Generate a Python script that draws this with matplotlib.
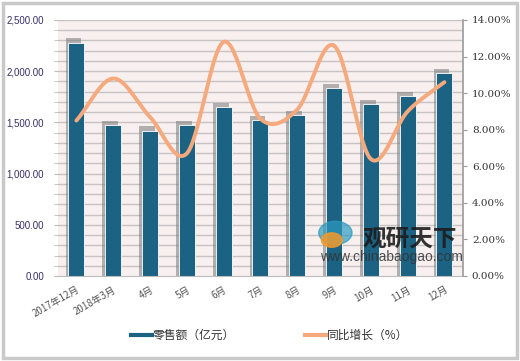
import numpy as np
import matplotlib.pyplot as plt
from matplotlib.patches import Rectangle

plt.rcParams['font.family'] = ['Noto Sans CJK SC', 'DejaVu Sans']

# data
months = ["2017年12月", "2018年3月", "4月", "5月", "6月", "7月", "8月", "9月", "10月", "11月", "12月"]
sales = [2280, 1475, 1420, 1478, 1650, 1523, 1572, 1836, 1680, 1758, 1982]
growth = [8.5, 10.8, 8.7, 6.7, 12.8, 8.6, 9.1, 12.6, 6.4, 9.0, 10.6]

bar_color = "#1b6283"
line_color = "#f5a97c"


def catmull_rom(x, y, n=30):
    # smooth curve through the points, like the spreadsheet "smoothed line"
    x = np.asarray(x, float)
    y = np.asarray(y, float)
    px = np.concatenate([[2 * x[0] - x[1]], x, [2 * x[-1] - x[-2]]])
    py = np.concatenate([[2 * y[0] - y[1]], y, [2 * y[-1] - y[-2]]])
    xs, ys = [], []
    t = np.linspace(0, 1, n)
    for i in range(1, len(px) - 2):
        for p, out in ((px, xs), (py, ys)):
            p0, p1, p2, p3 = p[i - 1], p[i], p[i + 1], p[i + 2]
            out.extend(0.5 * (2 * p1 + (-p0 + p2) * t
                              + (2 * p0 - 5 * p1 + 4 * p2 - p3) * t ** 2
                              + (-p0 + 3 * p1 - 3 * p2 + p3) * t ** 3))
    return np.array(xs), np.array(ys)


fig = plt.figure(figsize=(5.2, 3.61), dpi=100)
fig.patches.append(Rectangle((0.006, 0.008), 0.988, 0.984, transform=fig.transFigure,
                             fill=False, edgecolor="#c9c9c9", linewidth=2.5))

ax = fig.add_axes([0.1115, 0.2355, 0.7785, 0.7091])
ax.set_facecolor("#f8efef")
x = np.arange(len(months))

ax.set_ylim(0, 2500)
ax.set_xlim(-0.5, len(months) - 0.5)
for v in range(100, 2600, 100):
    ax.axhline(v, color="#c6c3c3", linewidth=1, zorder=0)

# soft shadow behind the bars
ax.bar(x - 0.08, [s + 40 for s in sales], width=0.43, color="#7a7a7a", alpha=0.55, zorder=1)
ax.bar(x, sales, width=0.43, color=bar_color, edgecolor="white", linewidth=0.6, zorder=2)

ax.set_yticks(range(0, 2501, 500))
ax.set_yticklabels(["{:,.2f}".format(v) for v in range(0, 2501, 500)],
                   fontsize=7, color="#3a2f6a", family="Liberation Sans")
ax.set_yticks(range(0, 2501, 100), minor=True)
ax.tick_params(axis="y", which="both", length=3, color="#bdbdbd", pad=7)
ax.set_xticks(x)
ax.set_xticklabels(months, rotation=30, ha="right", rotation_mode="anchor",
                   fontsize=7, color="#555555")
ax.tick_params(axis="x", length=0, pad=6)
for s in ["top", "right", "left"]:
    ax.spines[s].set_visible(False)
ax.spines["bottom"].set_color("#bdbdbd")

ax2 = ax.twinx()
ax2.set_ylim(0, 14)
sx, sy = catmull_rom(x, growth)
ax2.plot(sx, sy, color=line_color, linewidth=2.8, solid_capstyle="round", zorder=3)
ax2.set_yticks(np.arange(0, 14.01, 2))
ax2.set_yticklabels(["{:.2f}%".format(v) for v in np.arange(0, 14.01, 2)],
                    fontsize=7.5, color="#333333", family="DejaVu Serif")
ax2.tick_params(axis="y", length=3, color="#9a9a9a")
for s in ["top", "left", "bottom"]:
    ax2.spines[s].set_visible(False)
ax2.spines["right"].set_color("#9a9a9a")
ax2.spines["right"].set_linewidth(1.2)

# watermark
fig.patches.append(plt.Circle((0.645, 0.355), 0.032, transform=fig.transFigure,
                              color="#2d9bc0", alpha=0.7))
fig.patches.append(plt.Circle((0.638, 0.335), 0.02, transform=fig.transFigure,
                              color="#f39a2c", alpha=0.85))
fig.text(0.698, 0.338, "观研天下", fontsize=17, fontweight="bold", color="#1d1d1d",
         alpha=0.9, va="center")
fig.text(0.615, 0.287, "www.chinabaogao.com", fontsize=10, color="#333333", alpha=0.85,
         family="Liberation Sans", va="center")

# legend
fig.lines.append(plt.Line2D([0.252, 0.292], [0.072, 0.072], transform=fig.transFigure,
                            color=bar_color, linewidth=3))
fig.text(0.294, 0.072, "零售额（亿元）", fontsize=8.5, va="center", color="#333333")
fig.lines.append(plt.Line2D([0.587, 0.627], [0.072, 0.072], transform=fig.transFigure,
                            color=line_color, linewidth=3))
fig.text(0.629, 0.072, "同比增长（%）", fontsize=8.5, va="center", color="#333333")

fig.savefig("out.png", dpi=100)
